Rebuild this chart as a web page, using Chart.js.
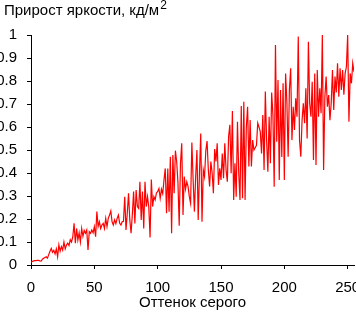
<!DOCTYPE html>
<html lang="ru">
<head>
<meta charset="UTF-8">
<title>Прирост яркости</title>
<script src="https://cdn.jsdelivr.net/npm/chart.js"></script>
<style>
  html, body { margin: 0; padding: 0; background: #fff; }
  #wrap { width: 356px; height: 312px; }
</style>
</head>
<body>
<div id="wrap"><canvas id="chart"></canvas></div>
<script>
// прирост яркости (кд/м2) для каждого оттенка серого 0..255
const brightness = [
  0.012, 0.015, 0.018, 0.019, 0.019, 0.02, 0.02, 0.018, 0.017, 0.025,
  0.029, 0.033, 0.036, 0.03, 0.045, 0.06, 0.072, 0.055, 0.064, 0.048,
  0.07, 0.036, 0.087, 0.06, 0.08, 0.065, 0.1, 0.07, 0.087, 0.095,
  0.085, 0.11, 0.1, 0.123, 0.181, 0.095, 0.159, 0.109, 0.14, 0.1,
  0.159, 0.125, 0.15, 0.138, 0.152, 0.065, 0.145, 0.138, 0.152, 0.14,
  0.167, 0.123, 0.232, 0.167, 0.188, 0.159, 0.174, 0.181, 0.159, 0.203,
  0.167, 0.203, 0.217, 0.235, 0.188, 0.174, 0.196, 0.18, 0.203, 0.217,
  0.181, 0.174, 0.188, 0.19, 0.297, 0.152, 0.225, 0.312, 0.196, 0.138,
  0.22, 0.319, 0.181, 0.326, 0.254, 0.246, 0.362, 0.196, 0.319, 0.159,
  0.362, 0.254, 0.297, 0.25, 0.12, 0.372, 0.254, 0.297, 0.283, 0.312,
  0.32, 0.333, 0.29, 0.33, 0.31, 0.37, 0.42, 0.225, 0.42, 0.232,
  0.471, 0.138, 0.478, 0.312, 0.497, 0.45, 0.36, 0.171, 0.44, 0.529,
  0.217, 0.384, 0.33, 0.362, 0.341, 0.297, 0.268, 0.533, 0.37, 0.232,
  0.384, 0.5, 0.196, 0.4, 0.572, 0.188, 0.413, 0.384, 0.497, 0.539,
  0.413, 0.341, 0.45, 0.4, 0.312, 0.504, 0.45, 0.529, 0.348, 0.42,
  0.37, 0.485, 0.377, 0.529, 0.413, 0.362, 0.558, 0.61, 0.399, 0.67,
  0.283, 0.442, 0.297, 0.623, 0.4, 0.283, 0.691, 0.29, 0.71, 0.283,
  0.6, 0.688, 0.428, 0.63, 0.428, 0.543, 0.5, 0.51, 0.52, 0.617,
  0.6, 0.58, 0.485, 0.652, 0.413, 0.754, 0.543, 0.406, 0.645, 0.442,
  0.75, 0.65, 0.34, 0.957, 0.536, 0.804, 0.37, 0.761, 0.47, 0.79,
  0.37, 0.833, 0.71, 0.471, 0.761, 0.855, 0.543, 0.688, 0.587, 0.725,
  0.645, 0.993, 0.543, 0.471, 0.63, 0.703, 0.616, 0.768, 0.55, 0.971,
  0.703, 0.645, 0.797, 0.457, 0.833, 0.435, 0.848, 0.645, 0.768, 0.66,
  1.0, 0.413, 0.732, 0.819, 0.688, 0.739, 0.63, 0.703, 0.848, 0.674,
  0.819, 0.75, 0.877, 0.732, 0.855, 0.761, 0.848, 0.74, 0.833, 0.862,
  1.0, 0.623, 0.833, 0.79, 0.877, 0.84
];
const xTicks = [0, 50, 100, 150, 200, 250];
const yTicks = [0, 0.1, 0.2, 0.3, 0.4, 0.5, 0.6, 0.7, 0.8, 0.9, 1];

const yTitle = 'Прирост яркости, кд/м';
const yTitleSup = '2';
const xTitle = 'Оттенок серого';

const FONT = '"Liberation Sans", Arial, sans-serif';

const points = brightness.map((v, i) => ({ x: i, y: v }));

// заголовок оси Y с верхним индексом
const titlePlugin = {
    id: 'yTitle',
    afterDraw(chart) {
        const ctx = chart.ctx;
        ctx.save();
        ctx.fillStyle = '#000';
        ctx.textBaseline = 'alphabetic';
        ctx.textAlign = 'left';
        ctx.font = '15px ' + FONT;
        ctx.fillText(yTitle, 4, 15);
        const w = ctx.measureText(yTitle).width;
        ctx.font = '12px ' + FONT;
        ctx.fillText(yTitleSup, 4 + w + 1, 9);
        ctx.restore();
    }
};

new Chart(document.getElementById('chart'), {
    type: 'line',
    data: {
        datasets: [{
            data: points,
            borderColor: '#ff0000',
            borderWidth: 1.2,
            pointRadius: 0,
            tension: 0,
            fill: false
        }]
    },
    options: {
        responsive: true,
        maintainAspectRatio: false,
        animation: false,
        layout: { padding: { top: 35, right: 0, left: 0, bottom: 0 } },
        plugins: {
            legend: { display: false },
            tooltip: { enabled: false }
        },
        scales: {
            x: {
                type: 'linear',
                min: 0,
                max: 255,
                afterBuildTicks: s => { s.ticks = xTicks.map(v => ({ value: v })); },
                afterFit: s => { s.height = 47; s.paddingLeft = 0; s.paddingRight = 2; },
                grid: { drawOnChartArea: false, drawTicks: true, tickLength: 4, color: '#000' },
                border: { display: true, color: '#000', width: 1 },
                ticks: { color: '#000', font: { family: FONT, size: 15 }, padding: 10, maxRotation: 0 },
                title: {
                    display: true,
                    text: xTitle,
                    color: '#000',
                    font: { family: FONT, size: 15 },
                    padding: { top: 0, bottom: 0 }
                }
            },
            y: {
                min: 0,
                max: 1,
                afterBuildTicks: s => { s.ticks = yTicks.map(v => ({ value: v })); },
                afterFit: s => { s.width = 31; },
                grid: { drawOnChartArea: false, drawTicks: true, tickLength: 4, color: '#000' },
                border: { display: true, color: '#000', width: 1 },
                ticks: {
                    color: '#000',
                    font: { family: FONT, size: 15 },
                    padding: 10,
                    callback: v => String(Number(v.toFixed(1)))
                }
            }
        }
    },
    plugins: [titlePlugin]
});
</script>
</body>
</html>
